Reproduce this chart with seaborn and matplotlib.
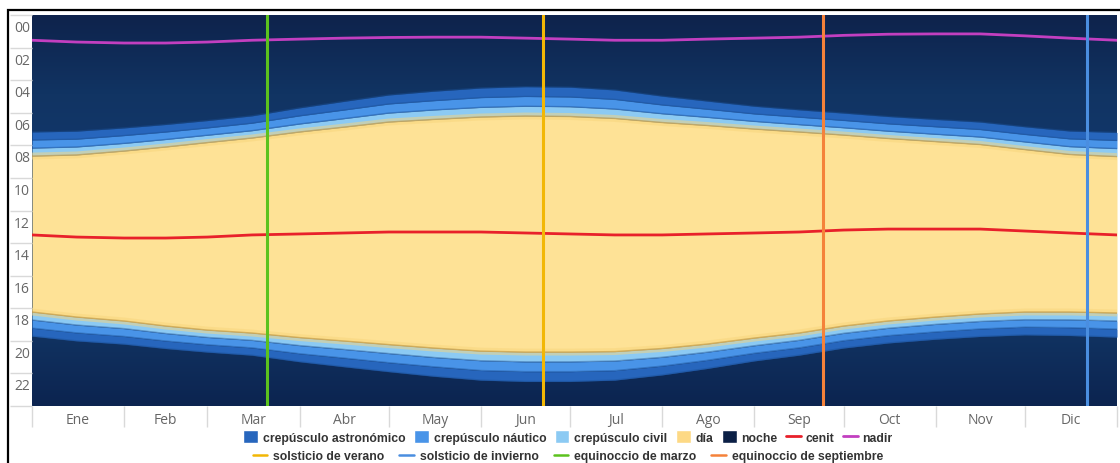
import numpy as np
import pandas as pd
import matplotlib.pyplot as plt
import seaborn as sns
from matplotlib.patches import Patch, Rectangle
from matplotlib.lines import Line2D
from matplotlib.colors import LinearSegmentedColormap
from matplotlib.transforms import ScaledTranslation

# día del año (muestras cada ~medio mes)
days = [0, 15, 31, 45, 59, 74, 90, 105, 120, 135, 151, 166, 181,
        196, 212, 227, 243, 258, 273, 288, 304, 319, 334, 349, 365]

# horas
sunrise = [8.66, 8.59, 8.35, 8.10, 7.83, 7.55, 7.18, 6.88, 6.57, 6.41, 6.26, 6.20, 6.23,
           6.35, 6.60, 6.78, 7.00, 7.18, 7.37, 7.58, 7.77, 7.95, 8.26, 8.56, 8.69]
sunset = [18.23, 18.54, 18.78, 19.09, 19.34, 19.52, 19.80, 20.01, 20.23, 20.44, 20.63, 20.69, 20.69,
          20.66, 20.47, 20.20, 19.83, 19.52, 19.09, 18.78, 18.54, 18.35, 18.23, 18.23, 18.29]
cenit = [13.50, 13.63, 13.69, 13.69, 13.63, 13.50, 13.44, 13.38, 13.32, 13.32, 13.32, 13.38, 13.44,
         13.50, 13.50, 13.44, 13.38, 13.32, 13.20, 13.14, 13.14, 13.14, 13.26, 13.38, 13.50]
nadir = [1.55, 1.66, 1.72, 1.72, 1.66, 1.55, 1.48, 1.42, 1.38, 1.36, 1.36, 1.42, 1.48,
         1.55, 1.55, 1.48, 1.42, 1.36, 1.25, 1.18, 1.16, 1.16, 1.28, 1.42, 1.55]

# duración de los crepúsculos (horas desde la salida / puesta del sol)
civil_len = [0.49, 0.49, 0.47, 0.46, 0.45, 0.45, 0.49, 0.52, 0.55, 0.58, 0.59, 0.60, 0.60,
             0.58, 0.54, 0.50, 0.47, 0.45, 0.45, 0.45, 0.45, 0.46, 0.47, 0.48, 0.49]
naut_len = [0.99, 0.97, 0.95, 0.92, 0.90, 0.91, 0.99, 1.05, 1.11, 1.15, 1.19, 1.20, 1.20,
            1.17, 1.08, 1.00, 0.93, 0.91, 0.90, 0.90, 0.91, 0.92, 0.93, 0.96, 0.99]
astro_len = [1.48, 1.46, 1.42, 1.38, 1.35, 1.36, 1.48, 1.58, 1.66, 1.73, 1.78, 1.80, 1.80,
             1.75, 1.62, 1.50, 1.40, 1.36, 1.35, 1.35, 1.36, 1.38, 1.40, 1.44, 1.48]

season_days = [172, 355, 79, 266]
season_labels = ['solsticio de verano', 'solsticio de invierno', 'equinoccio de marzo', 'equinoccio de septiembre']
season_colors = ['#f2b705', '#4a8ee0', '#5cc21e', '#f5823a']

month_starts = [0, 31, 59, 90, 120, 151, 181, 212, 243, 273, 304, 334, 365]
month_labels = ['Ene', 'Feb', 'Mar', 'Abr', 'May', 'Jun', 'Jul', 'Ago', 'Sep', 'Oct', 'Nov', 'Dic']

df = pd.DataFrame({'day': days, 'sunrise': sunrise, 'sunset': sunset,
                   'cenit': cenit, 'nadir': nadir})
df['civil_am'] = df['sunrise'] - np.array(civil_len)
df['naut_am'] = df['sunrise'] - np.array(naut_len)
df['astro_am'] = df['sunrise'] - np.array(astro_len)
df['civil_pm'] = df['sunset'] + np.array(civil_len)
df['naut_pm'] = df['sunset'] + np.array(naut_len)
df['astro_pm'] = df['sunset'] + np.array(astro_len)

c_astro = '#2766bd'
c_naut = '#4994e8'
c_civil = '#8ccaf3'
c_dia = '#fee296'
c_noche = '#0b1f45'

sns.set_theme(style='white')
plt.rcParams['font.family'] = ['Open Sans', 'DejaVu Sans']

fig = plt.figure(figsize=(11.2, 4.64), dpi=100)
ax = fig.add_axes([32 / 1120, 57 / 464, 1085 / 1120, 391 / 464])

# fondo de noche con degradado
night_cmap = LinearSegmentedColormap.from_list(
    'night', ['#0e234c', '#113463', '#12386d', '#12386d', '#113463', '#0c2450'])
grad = np.linspace(0, 1, 256).reshape(-1, 1)
ax.imshow(grad, cmap=night_cmap, aspect='auto', extent=[0, 365, 24, 0], zorder=0)

# crepúsculos de la mañana
ax.fill_between(df['day'], df['astro_am'], df['naut_am'], color=c_astro, lw=0, zorder=1)
ax.fill_between(df['day'], df['naut_am'], df['civil_am'], color=c_naut, lw=0, zorder=1)
ax.fill_between(df['day'], df['civil_am'], df['sunrise'], color=c_civil, lw=0, zorder=1)
# crepúsculos de la tarde
ax.fill_between(df['day'], df['sunset'], df['civil_pm'], color=c_civil, lw=0, zorder=1)
ax.fill_between(df['day'], df['civil_pm'], df['naut_pm'], color=c_naut, lw=0, zorder=1)
ax.fill_between(df['day'], df['naut_pm'], df['astro_pm'], color=c_astro, lw=0, zorder=1)

# separaciones suaves entre bandas
for col in ['astro_am', 'naut_am', 'civil_am', 'civil_pm', 'naut_pm', 'astro_pm']:
    ax.plot(df['day'], df[col], color='#1b4f94', lw=1.0, alpha=0.45, zorder=2)

# día
ax.fill_between(df['day'], df['sunrise'], df['sunset'], color=c_dia, lw=0, zorder=2)
for col in ['sunrise', 'sunset']:
    ax.plot(df['day'], df[col], color='#f8d57c', lw=5, alpha=0.5, zorder=2.5)
    ax.plot(df['day'], df[col], color='#b8913f', lw=1.0, alpha=0.6, zorder=2.6)

# cenit y nadir
sns.lineplot(data=df, x='day', y='cenit', color='#e8202a', lw=2, ax=ax, zorder=4)
sns.lineplot(data=df, x='day', y='nadir', color='#c23fc0', lw=2, ax=ax, zorder=4)

# solsticios y equinoccios
for d, c in zip(season_days, season_colors):
    ax.axvline(d, color=c, lw=2.2, zorder=5)

ax.set_xlim(0, 365)
ax.set_ylim(24, 0)
ax.set_xlabel('')
ax.set_ylabel('')
for s in ax.spines.values():
    s.set_visible(False)

# eje x: meses
mids = [(a + b) / 2 for a, b in zip(month_starts[:-1], month_starts[1:])]
ax.set_xticks(mids)
ax.set_xticklabels(month_labels)
ax.set_xticks(month_starts, minor=True)
ax.tick_params(axis='x', which='major', length=0, pad=4, labelsize=10, labelcolor='#666666')
ax.tick_params(axis='x', which='minor', length=15, width=1, color='#d9d9d9', bottom=True)

# eje y: horas
hours = list(range(0, 26, 2))
ax.set_yticks(hours)
ax.set_yticklabels([f'{h:02d}' if h < 24 else '' for h in hours])
ax.tick_params(axis='y', which='major', length=16, width=1, color='#d9d9d9', left=True,
               pad=-14.6, labelsize=10, labelcolor='#666666')
off = ScaledTranslation(0, -5 / 100, fig.dpi_scale_trans)
for lab in ax.get_yticklabels():
    lab.set_verticalalignment('top')
    lab.set_transform(lab.get_transform() + off)

# leyenda
leg_font = {'family': ['Liberation Sans', 'DejaVu Sans'], 'weight': 'bold', 'size': 8.8}
h1 = [Patch(fc=c_astro), Patch(fc=c_naut), Patch(fc=c_civil), Patch(fc='#fdd985'), Patch(fc=c_noche),
      Line2D([], [], color='#e8202a', lw=2), Line2D([], [], color='#c23fc0', lw=2)]
l1 = ['crepúsculo astronómico', 'crepúsculo náutico', 'crepúsculo civil', 'día', 'noche', 'cenit', 'nadir']
leg1 = fig.legend(h1, l1, loc='center', bbox_to_anchor=(568 / 1120, 1 - 438 / 464), ncol=7,
                  frameon=False, prop=leg_font, handlelength=1.2, handleheight=1.2,
                  handletextpad=0.4, columnspacing=0.7, labelcolor='#333333')
h2 = [Line2D([], [], color=c, lw=1.8) for c in season_colors]
leg2 = fig.legend(h2, season_labels, loc='center', bbox_to_anchor=(568 / 1120, 1 - 457 / 464), ncol=4,
                  frameon=False, prop=leg_font, handlelength=1.2, handletextpad=0.5,
                  columnspacing=1.2, labelcolor='#333333')

# marco exterior
fig.patches.append(Rectangle((8 / 1120, -0.1), 1.2, (464 - 11) / 464 + 0.1, transform=fig.transFigure,
                             fill=False, ec='black', lw=1.6, zorder=10))

fig.savefig('out.png', dpi=100, facecolor='white')
